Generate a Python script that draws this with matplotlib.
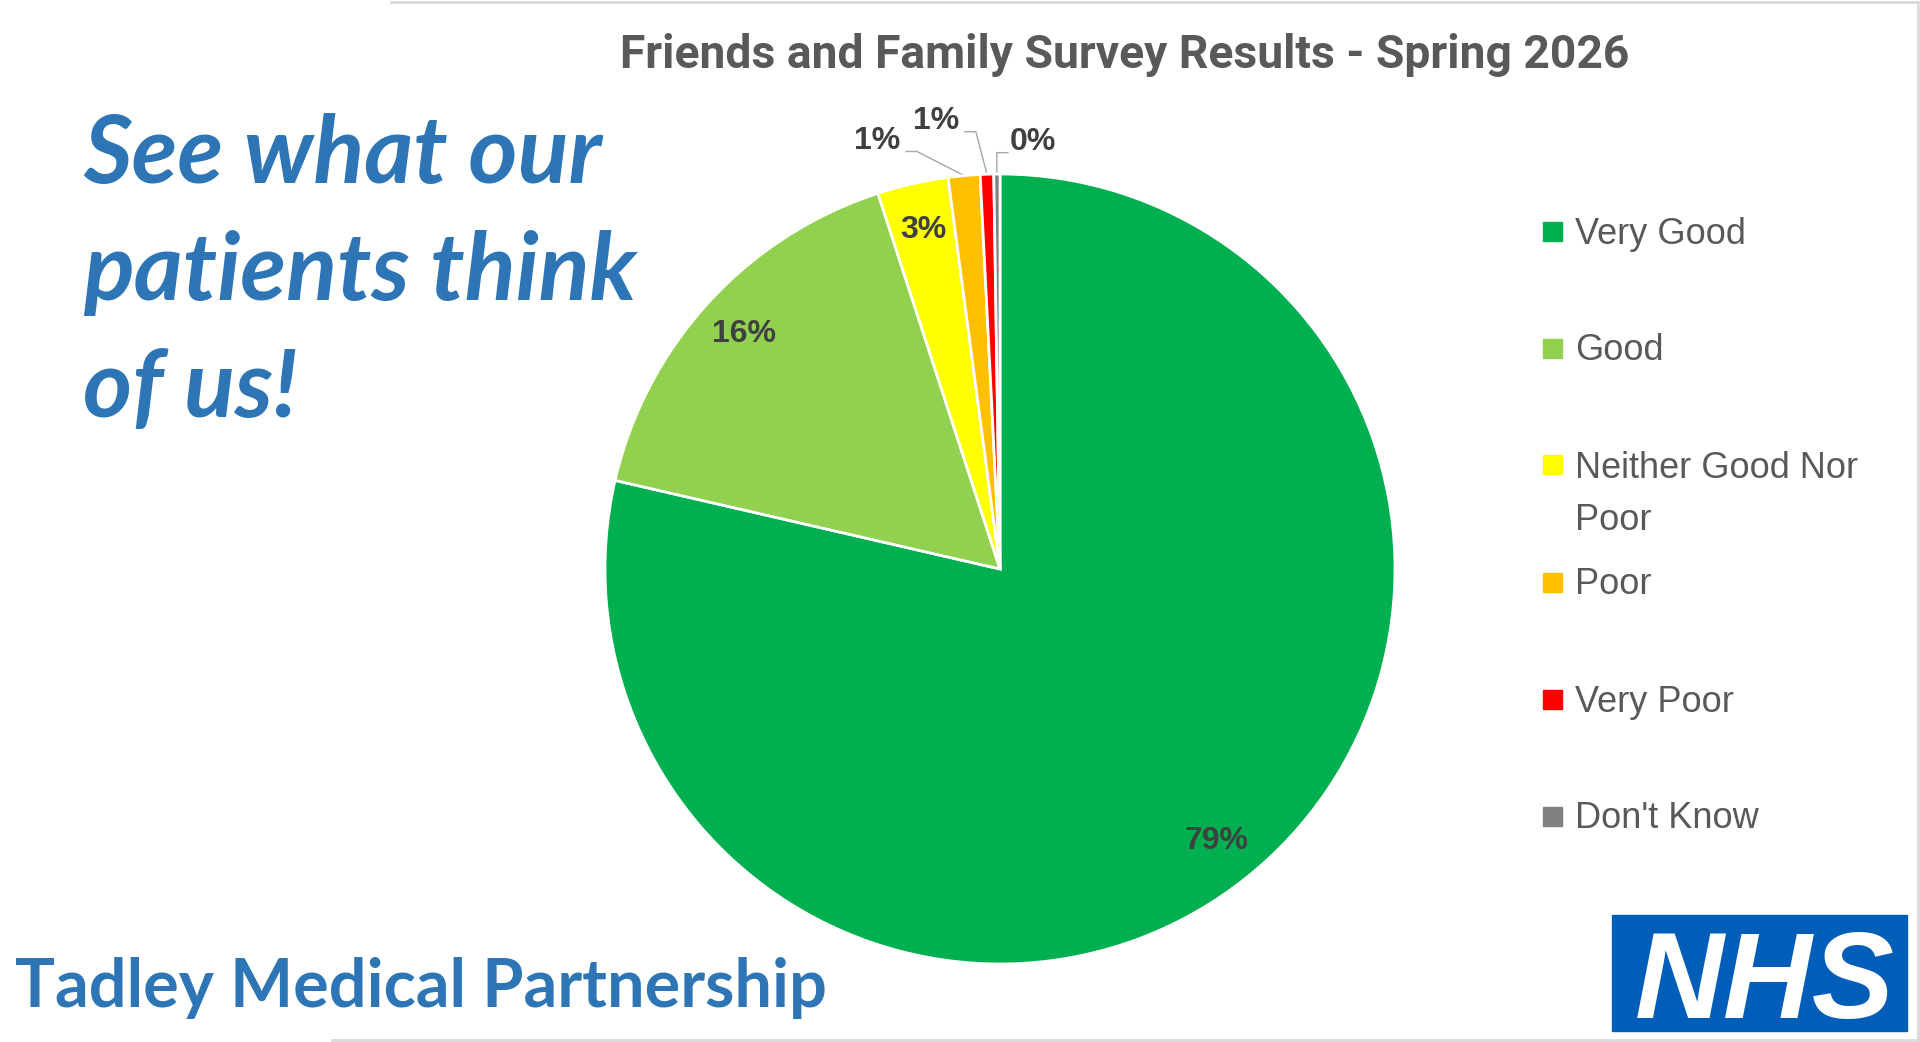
import matplotlib
matplotlib.use("Agg")
import matplotlib.pyplot as plt
from matplotlib.patches import Rectangle
from matplotlib.lines import Line2D
import numpy as np

W, H = 1920, 1042

# survey results (share of responses, %)
categories = ["Very Good", "Good", "Neither Good Nor\nPoor", "Poor", "Very Poor", "Don't Know"]
shares = [78.6, 16.4, 2.9, 1.3, 0.55, 0.25]
colours = ["#00B050", "#92D050", "#FFFF00", "#FFC000", "#FF0000", "#808080"]

title = "Friends and Family Survey Results - Spring 2026"
slogan = ["See what our", "patients think", "of us!"]
practice = "Tadley Medical Partnership"

BLUE = "#2E75B6"
NHS_BLUE = "#005EB8"
GREY_TEXT = "#595959"
LABEL_TEXT = "#404040"
BORDER = "#D9D9D9"


def fx(x):
    return x / W


def fy(y):
    # pixel rows counted from the top
    return 1 - y / H


def fit_width(fig, txt, width):
    fig.canvas.draw()
    bb = txt.get_window_extent()
    txt.set_fontsize(txt.get_fontsize() * width / bb.width)


fig = plt.figure(figsize=(W / 100, H / 100), dpi=100)
fig.patch.set_facecolor("white")

# chart area border (partly hidden behind the poster text)
fig.add_artist(Line2D([fx(391), 1], [fy(1.5), fy(1.5)], color=BORDER, lw=2))
fig.add_artist(Line2D([fx(1918), fx(1918)], [fy(1.5), fy(1040)], color=BORDER, lw=2))
fig.add_artist(Line2D([fx(332), 1], [fy(1040), fy(1040)], color=BORDER, lw=2))

# pie
cx, cy, r = 1000, 569, 395
ax = fig.add_axes([fx(cx - r), fy(cy + r), 2 * r / W, 2 * r / H])
wedges, texts, autotexts = ax.pie(
    shares,
    colors=colours,
    startangle=90,
    counterclock=False,
    autopct="%.0f%%",
    pctdistance=0.88,
    wedgeprops=dict(edgecolor="white", linewidth=2),
    textprops=dict(color=LABEL_TEXT, fontsize=23, fontweight="bold", family="Liberation Sans"),
)
ax.set_xlim(-1, 1)
ax.set_ylim(-1, 1)
ax.set_aspect("equal")
ax.axis("off")

# small slices: labels pulled outside with leader lines
# index: (label centre, leader start x offset)
outside = {
    3: ((-0.311, 1.084), 0.073),
    4: ((-0.162, 1.134), 0.073),
    5: ((0.084, 1.081), -0.064),
}
for i, ((lx, ly), off) in outside.items():
    t = autotexts[i]
    t.set_position((lx, ly))
    t.set_clip_on(False)
    w = wedges[i]
    mid = np.deg2rad((w.theta1 + w.theta2) / 2)
    ex, ey = np.cos(mid), np.sin(mid)
    sx = lx + off
    sy = ly - 0.027
    kx = sx + np.sign(off) * 0.028
    ax.plot([sx, kx, ex], [sy, sy, ey], color="#A6A6A6", lw=1, clip_on=False, zorder=0)

# title
t_title = fig.text(fx(1125), fy(68), title, ha="center", va="baseline",
                   fontsize=33, fontweight="bold", color=GREY_TEXT,
                   family=["Roboto", "DejaVu Sans"])
fit_width(fig, t_title, 1011)

# legend
row0, step, line_gap = 231, 117, 52
for i, (lab, col) in enumerate(zip(categories, colours)):
    y = row0 + i * step
    fig.add_artist(Rectangle((fx(1543), fy(y + 9.5)), 19 / W, 19 / H, color=col,
                             transform=fig.transFigure))
    lines = lab.split("\n")
    for k, part in enumerate(lines):
        fig.text(fx(1575), fy(y + 12.5 + k * line_gap), part, ha="left", va="baseline",
                 fontsize=26, color=GREY_TEXT, family="Liberation Sans")

# slogan
slogan_txt = []
for line, base in zip(slogan, [183, 300, 417]):
    slogan_txt.append(fig.text(fx(83), fy(base), line, ha="left", va="baseline",
                               fontsize=60, fontweight="bold", style="italic",
                               color=BLUE, family="Lato"))
fit_width(fig, slogan_txt[1], 554)
for t in slogan_txt:
    t.set_fontsize(slogan_txt[1].get_fontsize())

t_prac = fig.text(fx(15), fy(1007), practice, ha="left", va="baseline",
                  fontsize=45, fontweight="bold", color=BLUE, family="Lato")
fit_width(fig, t_prac, 811)

# NHS logo
fig.add_artist(Rectangle((fx(1612), fy(1031)), 295 / W, 116 / H, color=NHS_BLUE,
                         transform=fig.transFigure))
t_nhs = fig.text(fx(1765), fy(1018), "NHS", ha="center", va="baseline",
                 fontsize=90, fontweight="bold", style="italic", color="white",
                 family="Liberation Sans")
fit_width(fig, t_nhs, 260)

fig.savefig("out.png", dpi=100, facecolor="white")
